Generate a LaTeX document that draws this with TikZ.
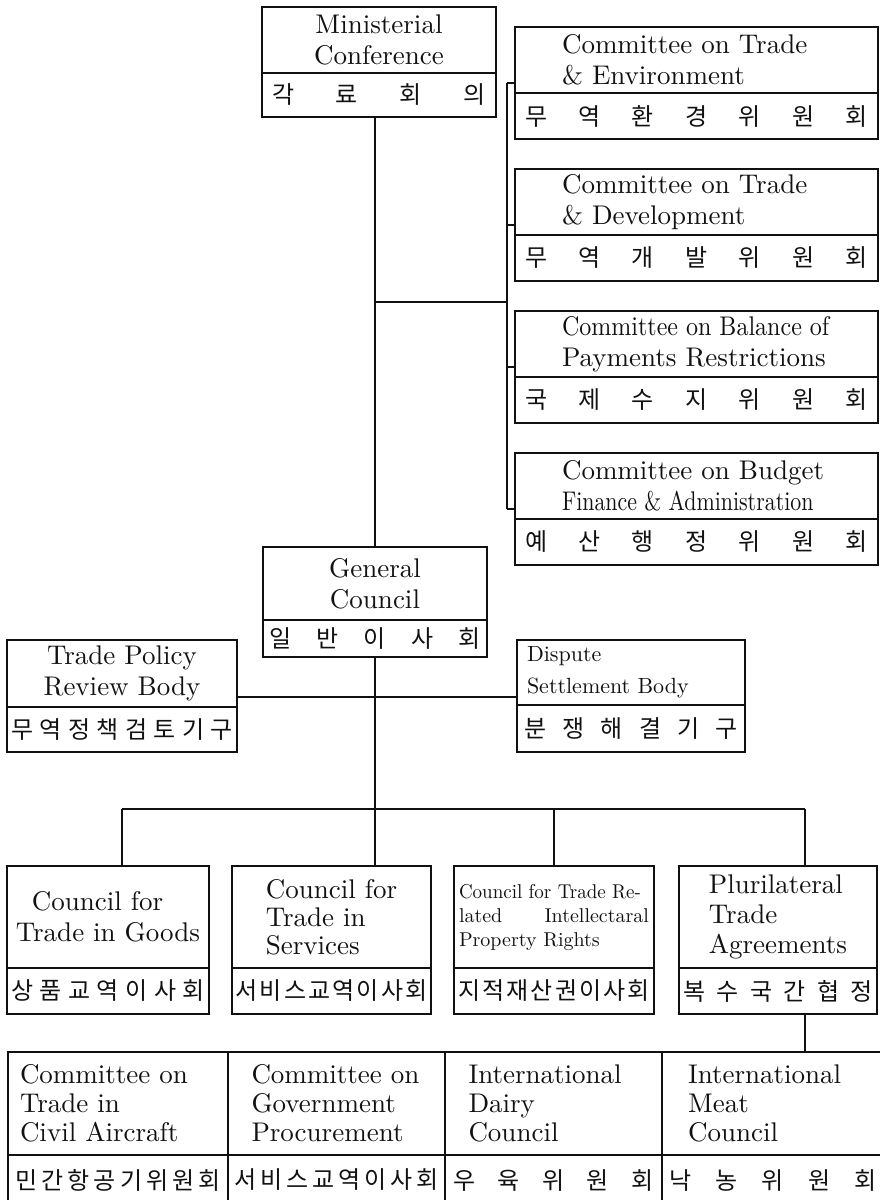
\documentclass[tikz,border=0pt]{standalone}
\usepackage{fontspec}
\usepackage{graphicx}
\setmainfont{lmroman10-regular.otf}
\newfontfamily\kofont{Noto Sans CJK KR}
\usetikzlibrary{calc,positioning}
\definecolor{ink}{RGB}{17,17,17}

% Hangul spread evenly over a fixed width
\def\kospread#1#2{\makebox[#1][s]{\kospA#2\relax}}
\def\kospA#1{\ifx#1\relax\else#1\expandafter\kospB\fi}
\def\kospB#1{\ifx#1\relax\else\hfil#1\expandafter\kospB\fi}

\begin{document}
\begin{tikzpicture}[
  x=1pt,y=-1pt,
  box/.style={draw=ink,line width=2.2pt,outer sep=0pt,inner sep=0pt,text=ink},
  en/.style={box,align=center,font=\fontsize{27}{31}\selectfont},
  cmte/.style={en,align=left,text width=269pt,inner xsep=47pt,
               minimum height=66pt,anchor=north west},
  ko/.style={box,font=\kofont\fontsize{24}{28}\selectfont},
  tie/.style={draw=ink,line width=2.2pt}
]
\useasboundingbox (0,0) rectangle (880,1200);

% Ministerial conference.
\node[en,minimum width=234pt,minimum height=66pt,anchor=north west] (mc)
  at (262,7) {Ministerial\\Conference};
\node[ko,minimum width=234pt,minimum height=44pt,below=0pt of mc] (mcko)
  {\kospread{214pt}{각료회의}};

% Committees under the conference.
\node[cmte] (cte) at (515,27) {Committee on Trade\\ \& Environment};
\node[ko,minimum width=363pt,minimum height=46pt,below=0pt of cte] (cteko)
  {\kospread{343pt}{무역환경위원회}};

\node[cmte] (ctd) at (515,169) {Committee on Trade\\ \& Development};
\node[ko,minimum width=363pt,minimum height=46pt,below=0pt of ctd] (ctdko)
  {\kospread{343pt}{무역개발위원회}};

\node[cmte] (cbop) at (515,311)
  {\scalebox{.89}[1]{Committee on Balance of}\\Payments Restrictions};
\node[ko,minimum width=363pt,minimum height=46pt,below=0pt of cbop] (cbopko)
  {\kospread{343pt}{국제수지위원회}};

\node[cmte] (cbfa) at (515,453)
  {Committee on Budget\\\scalebox{.81}[1]{Finance \& Administration}};
\node[ko,minimum width=363pt,minimum height=46pt,below=0pt of cbfa] (cbfako)
  {\kospread{343pt}{예산행정위원회}};

% General council and its two bodies.
\node[en,minimum width=224pt,minimum height=73pt,anchor=north west] (gc)
  at (263,547) {General\\Council};
\node[ko,minimum width=224pt,minimum height=37pt,below=0pt of gc] (gcko)
  {\kospread{212pt}{일반이사회}};

\node[en,minimum width=230pt,minimum height=67pt,anchor=north west] (tprb)
  at (7,640) {Trade Policy\\Review Body};
\node[ko,minimum width=230pt,minimum height=45pt,below=0pt of tprb] (tprbko)
  {\kospread{222pt}{무역정책검토기구}};

\node[en,align=left,font=\fontsize{22}{32}\selectfont,text width=208pt,
  inner xsep=10pt,minimum height=65pt,anchor=north west] (dsb)
  at (517,640) {Dispute\\Settlement Body};
\node[ko,minimum width=228pt,minimum height=47pt,below=0pt of dsb] (dsbko)
  {\kospread{214pt}{분쟁해결기구}};

% Councils.
\node[en,align=left,font=\fontsize{27}{31}\selectfont,minimum width=202pt,
  minimum height=102pt,anchor=north west] (cgoods)
  at (7,866) {\hspace*{16pt}Council for\\Trade in Goods};
\node[ko,minimum width=202pt,minimum height=46pt,below=0pt of cgoods] (cgoodsko)
  {\kospread{194pt}{상품교역이사회}};

\node[en,align=left,font=\fontsize{27}{28}\selectfont,minimum width=199pt,
  minimum height=102pt,anchor=north west] (csvc)
  at (232,866) {Council for\\Trade in\\Services};
\node[ko,minimum width=199pt,minimum height=46pt,below=0pt of csvc] (csvcko)
  {\kospread{192pt}{서비스교역이사회}};

\node[en,align=left,font=\fontsize{20}{24}\selectfont,text width=190pt,
  inner xsep=5pt,minimum height=102pt,anchor=north west] (trips)
  at (454,866) {\scalebox{.95}[1]{Council for Trade Re-}\\
                lated\hfill Intellectaral\\Property Rights};
\node[ko,minimum width=200pt,minimum height=46pt,below=0pt of trips] (tripsko)
  {\kospread{192pt}{지적재산권이사회}};

\node[en,align=left,font=\fontsize{27}{30}\selectfont,minimum width=198pt,
  minimum height=102pt,anchor=north west] (pta)
  at (679,866) {Plurilateral\\Trade\\Agreements};
\node[ko,minimum width=198pt,minimum height=46pt,below=0pt of pta] (ptako)
  {\kospread{190pt}{복수국간협정}};

% Plurilateral agreements row (runs off the page).
\node[en,align=left,font=\fontsize{27}{29}\selectfont,text width=196pt,
  inner xsep=12pt,minimum height=103pt,anchor=north west] (civair)
  at (8,1052) {Committee on\\Trade in\\Civil Aircraft};
\node[en,align=left,font=\fontsize{27}{29}\selectfont,text width=170pt,
  inner xsep=23.5pt,minimum height=103pt,right=0pt of civair] (govproc)
  {Committee on\\Government\\Procurement};
\node[en,align=left,font=\fontsize{27}{29}\selectfont,text width=170pt,
  inner xsep=23.5pt,minimum height=103pt,right=0pt of govproc] (dairy)
  {International\\Dairy\\Council};
\node[en,align=left,font=\fontsize{27}{29}\selectfont,text width=170pt,
  inner xsep=26pt,minimum height=103pt,right=0pt of dairy] (meat)
  {International\\Meat\\Council};
\node[ko,minimum width=220pt,minimum height=50pt,below=0pt of civair] (civairko)
  {\kospread{206pt}{민간항공기위원회}};
\node[ko,minimum width=217pt,minimum height=50pt,below=0pt of govproc] (govprocko)
  {\kospread{205pt}{서비스교역이사회}};
\node[ko,minimum width=217pt,minimum height=50pt,below=0pt of dairy] (dairyko)
  {\kospread{200pt}{우육위원회}};
\node[ko,minimum width=222pt,minimum height=50pt,below=0pt of meat] (meatko)
  {\kospread{208pt}{낙농위원회}};

% Conference trunk and committee bracket.
\coordinate (brk) at (507,302);
\coordinate (tieA) at ($(cte.south west)!.15!(cte.north west)$);
\coordinate (tieB) at ($(ctd.south west)!.15!(ctd.north west)$);
\coordinate (tieC) at ($(cbop.south west)!.15!(cbop.north west)$);
\coordinate (tieD) at ($(cbfa.south west)!.15!(cbfa.north west)$);
\draw[tie] (gc.north |- mcko.south) -- (gc.north);
\draw[tie] (gc.north |- brk) -- (brk);
\draw[tie] (tieA -| brk) -- (tieD -| brk);
\foreach \t in {tieA,tieB,tieC,tieD}
  \draw[tie] (\t -| brk) -- (\t);

% Review and dispute bodies.
\coordinate (tieT) at ($(tprb.south east)!.15!(tprb.north east)$);
\draw[tie] (tieT) -- (tieT -| dsb.west);

% Council bar.
\coordinate (barL) at (122,809);
\coordinate (barR) at (805,809);
\draw[tie] (barL) -- (barR);
\draw[tie] (gcko.south) -- (gcko.south |- csvc.north);
\draw[tie] (barL) -- (barL |- cgoods.north);
\draw[tie] (trips.north |- barL) -- (trips.north);
\draw[tie] (barR) -- (barR |- pta.north);
\draw[tie] (barR |- ptako.south) -- (barR |- meat.north);

\end{tikzpicture}
\end{document}
